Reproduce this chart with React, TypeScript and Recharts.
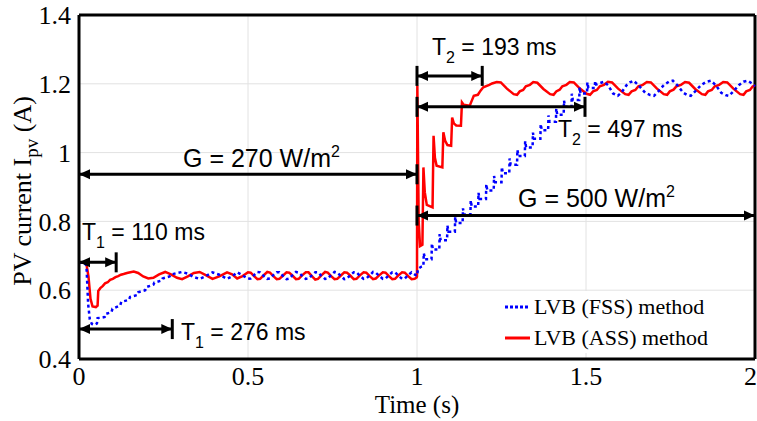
import { LineChart, Line, XAxis, YAxis, CartesianGrid, ReferenceLine } from "recharts";

// LVB (ASS) method, [time s, current A]
const assStartup = [
  [0, 0.68], [0.015, 0.68], [0.022, 0.676], [0.028, 0.64], [0.034, 0.575], [0.04, 0.553],
  [0.05, 0.551], [0.055, 0.555], [0.057, 0.598], [0.063, 0.606], [0.07, 0.612], [0.077, 0.62],
  [0.085, 0.623], [0.092, 0.63], [0.1, 0.633], [0.108, 0.638], [0.116, 0.641], [0.124, 0.645],
  [0.132, 0.647], [0.142, 0.65], [0.152, 0.652], [0.162, 0.654], [0.175, 0.65], [0.19, 0.64],
  [0.205, 0.634], [0.22, 0.636], [0.237, 0.646], [0.255, 0.653], [0.272, 0.646], [0.29, 0.636],
  [0.305, 0.632], [0.322, 0.64], [0.34, 0.65], [0.357, 0.653], [0.375, 0.644], [0.395, 0.633],
  [0.415, 0.64], [0.438, 0.652], [0.453, 0.646], [0.468, 0.634], [0.484, 0.641],
];
const assLowRipple = [
  [0.5, 0.652], [0.508, 0.651], [0.518, 0.641], [0.528, 0.632], [0.536, 0.633], [0.546, 0.643],
  [0.557, 0.653], [0.565, 0.651], [0.575, 0.641], [0.585, 0.632], [0.593, 0.633], [0.603, 0.642],
  [0.614, 0.652], [0.622, 0.651], [0.632, 0.642], [0.642, 0.632], [0.65, 0.633], [0.66, 0.643],
  [0.671, 0.652], [0.679, 0.652], [0.689, 0.641], [0.699, 0.631], [0.707, 0.633], [0.717, 0.643],
  [0.728, 0.653], [0.736, 0.651], [0.746, 0.641], [0.756, 0.632], [0.764, 0.633], [0.774, 0.642],
  [0.785, 0.652], [0.793, 0.651], [0.803, 0.642], [0.813, 0.632], [0.821, 0.633], [0.831, 0.643],
  [0.842, 0.652], [0.85, 0.651], [0.86, 0.641], [0.87, 0.632], [0.878, 0.634], [0.888, 0.643],
  [0.899, 0.652], [0.907, 0.651], [0.917, 0.641], [0.927, 0.632], [0.935, 0.633], [0.945, 0.643],
  [0.956, 0.652], [0.964, 0.651], [0.974, 0.641], [0.984, 0.632], [0.993, 0.633], [0.999, 0.637],
];
const assStepTransient = [
  [1.0, 0.64], [1.001, 1.195], [1.005, 0.8], [1.009, 0.728], [1.016, 0.732], [1.019, 0.957],
  [1.023, 0.885], [1.029, 0.848], [1.046, 0.841], [1.049, 1.049], [1.053, 0.985], [1.058, 0.962],
  [1.075, 0.957], [1.078, 1.059], [1.083, 1.035], [1.09, 1.022], [1.101, 1.02], [1.104, 1.102],
  [1.109, 1.085], [1.116, 1.079], [1.13, 1.078], [1.133, 1.146], [1.138, 1.139], [1.156, 1.136],
  [1.16, 1.146], [1.168, 1.165], [1.18, 1.168], [1.188, 1.18], [1.196, 1.19], [1.214, 1.197],
  [1.222, 1.201],
];
const assHighRipple = [
  [1.236, 1.205], [1.248, 1.204], [1.266, 1.186], [1.286, 1.17], [1.296, 1.168], [1.304, 1.178],
  [1.314, 1.182], [1.322, 1.193], [1.334, 1.197],
  [1.344, 1.205], [1.356, 1.203], [1.374, 1.185], [1.394, 1.17], [1.404, 1.168], [1.412, 1.178],
  [1.422, 1.183], [1.43, 1.193], [1.442, 1.197],
  [1.452, 1.205], [1.464, 1.204], [1.482, 1.186], [1.502, 1.171], [1.512, 1.168], [1.521, 1.178],
  [1.532, 1.182], [1.541, 1.193], [1.553, 1.197],
  [1.565, 1.206], [1.577, 1.204], [1.595, 1.186], [1.616, 1.17], [1.626, 1.168], [1.635, 1.178],
  [1.646, 1.182], [1.655, 1.193], [1.668, 1.197],
  [1.68, 1.205], [1.692, 1.204], [1.71, 1.186], [1.73, 1.17], [1.74, 1.168], [1.748, 1.178],
  [1.759, 1.183], [1.768, 1.193], [1.781, 1.197],
  [1.793, 1.205], [1.805, 1.203], [1.823, 1.185], [1.843, 1.17], [1.853, 1.168], [1.861, 1.178],
  [1.872, 1.182], [1.881, 1.193], [1.894, 1.197],
  [1.906, 1.205], [1.918, 1.204], [1.936, 1.186], [1.956, 1.17], [1.966, 1.168], [1.974, 1.178],
  [1.985, 1.182], [1.993, 1.192], [2.0, 1.195],
];

// LVB (FSS) method, [time s, current A]
const fssStartup = [
  [0, 0.68], [0.015, 0.68], [0.022, 0.672], [0.027, 0.56], [0.032, 0.515], [0.038, 0.502],
  [0.046, 0.499], [0.053, 0.503], [0.055, 0.519], [0.066, 0.52], [0.076, 0.522], [0.079, 0.531],
  [0.096, 0.536], [0.099, 0.546], [0.122, 0.556], [0.125, 0.566], [0.148, 0.572], [0.151, 0.58],
  [0.172, 0.586], [0.175, 0.594], [0.196, 0.6], [0.199, 0.609], [0.22, 0.616], [0.223, 0.622],
  [0.244, 0.628], [0.247, 0.634], [0.268, 0.64], [0.271, 0.645], [0.29, 0.65], [0.305, 0.653],
];
const fssLowRipple = [
  [0.322, 0.648], [0.34, 0.638], [0.357, 0.633], [0.375, 0.641], [0.395, 0.652], [0.415, 0.645],
  [0.438, 0.633], [0.453, 0.64], [0.468, 0.652], [0.484, 0.643],
  [0.5, 0.633], [0.508, 0.634], [0.518, 0.644], [0.528, 0.653], [0.536, 0.652], [0.546, 0.642],
  [0.557, 0.633], [0.565, 0.634], [0.575, 0.644], [0.585, 0.652], [0.593, 0.652], [0.603, 0.642],
  [0.614, 0.632], [0.622, 0.634], [0.632, 0.644], [0.642, 0.653], [0.65, 0.651], [0.66, 0.642],
  [0.671, 0.633], [0.679, 0.634], [0.689, 0.643], [0.699, 0.652], [0.707, 0.652], [0.717, 0.642],
  [0.728, 0.633], [0.736, 0.634], [0.746, 0.644], [0.756, 0.653], [0.764, 0.651], [0.774, 0.642],
  [0.785, 0.632], [0.793, 0.634], [0.803, 0.644], [0.813, 0.652], [0.821, 0.652], [0.831, 0.642],
  [0.842, 0.633], [0.85, 0.634], [0.86, 0.643], [0.87, 0.653], [0.878, 0.651], [0.888, 0.642],
  [0.899, 0.633], [0.907, 0.634], [0.917, 0.644], [0.927, 0.652], [0.935, 0.652], [0.945, 0.642],
  [0.956, 0.633], [0.964, 0.634], [0.974, 0.644], [0.984, 0.652], [0.993, 0.646], [0.999, 0.642],
];
const fssStepRamp = [
  [1.0, 0.642], [1.003, 0.662], [1.012, 0.668], [1.019, 0.67],
  [1.02, 0.708], [1.024, 0.69], [1.043, 0.69], [1.044, 0.736], [1.047, 0.718],
  [1.066, 0.718], [1.067, 0.763], [1.07, 0.745], [1.089, 0.745], [1.09, 0.788], [1.093, 0.77],
  [1.112, 0.77], [1.113, 0.813], [1.116, 0.795], [1.135, 0.795], [1.136, 0.838], [1.139, 0.82],
  [1.158, 0.82], [1.159, 0.861], [1.162, 0.843], [1.181, 0.843], [1.182, 0.883], [1.185, 0.865],
  [1.204, 0.865], [1.205, 0.908], [1.208, 0.89], [1.227, 0.89], [1.228, 0.932], [1.231, 0.914],
  [1.25, 0.914], [1.251, 0.958], [1.254, 0.94], [1.273, 0.94], [1.274, 0.983], [1.277, 0.965],
  [1.296, 0.965], [1.297, 1.008], [1.3, 0.99], [1.319, 0.99], [1.32, 1.033], [1.323, 1.015],
  [1.342, 1.015], [1.343, 1.058], [1.346, 1.04], [1.365, 1.04], [1.366, 1.083], [1.369, 1.065],
  [1.388, 1.065], [1.389, 1.108], [1.392, 1.09], [1.411, 1.09], [1.412, 1.128], [1.415, 1.11],
  [1.434, 1.11], [1.435, 1.151], [1.438, 1.133], [1.457, 1.133], [1.458, 1.171], [1.461, 1.153],
  [1.48, 1.153], [1.481, 1.19], [1.484, 1.172], [1.503, 1.172], [1.504, 1.204], [1.507, 1.188],
  [1.526, 1.188], [1.527, 1.208], [1.53, 1.198],
];
const fssHighRipple = [
  [1.553, 1.206], [1.565, 1.196], [1.58, 1.172], [1.594, 1.165], [1.606, 1.176], [1.62, 1.196],
  [1.63, 1.204], [1.641, 1.209], [1.655, 1.196], [1.675, 1.174], [1.69, 1.167], [1.701, 1.165],
  [1.714, 1.178], [1.73, 1.196], [1.745, 1.206], [1.757, 1.209], [1.77, 1.196], [1.788, 1.174],
  [1.8, 1.167], [1.81, 1.165], [1.823, 1.178], [1.84, 1.196], [1.856, 1.206], [1.87, 1.209],
  [1.884, 1.196], [1.9, 1.174], [1.913, 1.167], [1.923, 1.165], [1.936, 1.178], [1.952, 1.196],
  [1.966, 1.206], [1.979, 1.209], [1.992, 1.2], [2.0, 1.193],
];

const xTicks = [0, 0.5, 1, 1.5, 2];
const yTicks = [0.4, 0.6, 0.8, 1, 1.2, 1.4];

// time-span annotations: from/to in s, level in A
const spans = [
  { id: "t1a", from: 0, to: 0.11, level: 0.681, main: "T", sub: "1", rest: " = 110 ms", barL: false, barR: true },
  { id: "g270", from: 0, to: 1, level: 0.937, main: "G = 270 W/m", sup: "2", barL: false, barR: true },
  { id: "t1b", from: 0, to: 0.276, level: 0.487, main: "T", sub: "1", rest: " = 276 ms", barL: false, barR: true },
  { id: "t2a", from: 1, to: 1.193, level: 1.223, main: "T", sub: "2", rest: " = 193 ms", barL: true, barR: true },
  { id: "t2b", from: 1, to: 1.497, level: 1.133, main: "T", sub: "2", rest: " = 497 ms", barL: true, barR: true },
  { id: "g500", from: 1, to: 2, level: 0.817, main: "G = 500 W/m", sup: "2", barL: true, barR: false },
];

// text offsets in px from the left end of each arrow, and font size
const labelOffset: Record<string, [number, number, number]> = {
  t1a: [3, -22, 23],
  g270: [104, -7, 25],
  t1b: [102, 11, 23],
  t2a: [15, -21, 23],
  t2b: [141, 30, 23],
  g500: [101, -9, 25],
};

const toPoints = (pairs: number[][]) => pairs.map(([t, v]) => ({ t, v }));
const assData = toPoints([...assStartup, ...assLowRipple, ...assStepTransient, ...assHighRipple]);
const fssData = toPoints([...fssStartup, ...fssLowRipple, ...fssStepRamp, ...fssHighRipple]);

const fmt = (v: number) => String(Number(v.toFixed(1)));

function SpanArrow(props: any) {
  const { x1, x2, y1, span } = props;
  const y = y1;
  const [dx, dy, fs] = labelOffset[span.id];
  const head = 11;
  const hw = 5;
  return (
    <g>
      <line x1={x1} x2={x2} y1={y} y2={y} stroke="#000" strokeWidth={3} />
      <polygon points={`${x1},${y} ${x1 + head},${y - hw} ${x1 + head},${y + hw}`} fill="#000" />
      <polygon points={`${x2},${y} ${x2 - head},${y - hw} ${x2 - head},${y + hw}`} fill="#000" />
      {span.barL && <line x1={x1} x2={x1} y1={y - 10} y2={y + 10} stroke="#000" strokeWidth={3} />}
      {span.barR && <line x1={x2} x2={x2} y1={y - 10} y2={y + 10} stroke="#000" strokeWidth={3} />}
      <text x={x1 + dx} y={y + dy} fontFamily="Liberation Sans" fontSize={fs} fill="#000">
        {span.main}
        {span.sub && (
          <tspan dy={8} fontSize={16}>
            {span.sub}
          </tspan>
        )}
        {span.rest && <tspan dy={span.sub ? -8 : 0}>{span.rest}</tspan>}
        {span.sup && (
          <tspan dy={-10} fontSize={16}>
            {span.sup}
          </tspan>
        )}
      </text>
    </g>
  );
}

function YLabel(props: any) {
  const vb = props.viewBox || { y: 15, height: 344 };
  const cy = vb.y + vb.height / 2 + 4;
  const x = 31;
  return (
    <text
      x={x}
      y={cy}
      transform={`rotate(-90 ${x} ${cy})`}
      textAnchor="middle"
      fontFamily="Liberation Serif"
      fontSize={26}
      fill="#000"
    >
      PV current I
      <tspan dy={7} fontSize={19}>
        pv
      </tspan>
      <tspan dy={-7}> (A)</tspan>
    </text>
  );
}

export default function App() {
  return (
    <div
      style={{
        position: "absolute",
        left: 0,
        top: 0,
        width: 757,
        height: 421,
        background: "#fff",
        fontFamily: "Liberation Serif",
      }}
    >
      <LineChart width={757} height={421} margin={{ top: 15, right: 2, bottom: 0, left: 0 }}>
        <CartesianGrid stroke="#e2e2e2" strokeWidth={1} />
        <XAxis
          dataKey="t"
          type="number"
          domain={[0, 2]}
          ticks={xTicks}
          tickFormatter={fmt}
          height={62}
          tickLine={false}
          axisLine={{ stroke: "#000", strokeWidth: 3 }}
          tick={{ fill: "#000", fontSize: 26, fontFamily: "Liberation Serif" }}
          label={{
            value: "Time (s)",
            position: "insideBottom",
            offset: 8,
            fill: "#000",
            fontSize: 25,
            fontFamily: "Liberation Serif",
          }}
        />
        <YAxis
          type="number"
          domain={[0.4, 1.4]}
          ticks={yTicks}
          tickFormatter={fmt}
          width={79}
          tickLine={false}
          axisLine={{ stroke: "#000", strokeWidth: 3 }}
          tick={{ fill: "#000", fontSize: 26, fontFamily: "Liberation Serif" }}
          label={(p: any) => <YLabel {...p} />}
        />
        <ReferenceLine y={1.4} stroke="#000" strokeWidth={3} />
        <ReferenceLine x={2} stroke="#000" strokeWidth={3} />
        <Line
          data={assData}
          dataKey="v"
          type="linear"
          stroke="#ff0000"
          strokeWidth={2.5}
          dot={false}
          isAnimationActive={false}
        />
        <Line
          data={fssData}
          dataKey="v"
          type="linear"
          stroke="#0000ff"
          strokeWidth={2.5}
          strokeDasharray="3 3"
          dot={false}
          isAnimationActive={false}
        />
        {spans.map((s) => (
          <ReferenceLine
            key={s.id}
            segment={[
              { x: s.from, y: s.level },
              { x: s.to, y: s.level },
            ]}
            ifOverflow="visible"
            shape={(p: any) => <SpanArrow {...p} span={s} />}
          />
        ))}
      </LineChart>
      <div
        style={{
          position: "absolute",
          left: 501,
          top: 291,
          width: 212,
          height: 62,
          background: "#fff",
          fontSize: 22,
          color: "#000",
          lineHeight: "31px",
        }}
      >
        <div style={{ display: "flex", alignItems: "center", height: 31 }}>
          <svg width={30} height={10} style={{ marginLeft: 3 }}>
            <line x1={1} x2={26} y1={5} y2={5} stroke="#0000ff" strokeWidth={3} strokeDasharray="3 2" />
          </svg>
          <span>LVB (FSS) method</span>
        </div>
        <div style={{ display: "flex", alignItems: "center", height: 31 }}>
          <svg width={30} height={10} style={{ marginLeft: 3 }}>
            <line x1={1} x2={26} y1={5} y2={5} stroke="#ff0000" strokeWidth={3} />
          </svg>
          <span>LVB (ASS) method</span>
        </div>
      </div>
    </div>
  );
}
